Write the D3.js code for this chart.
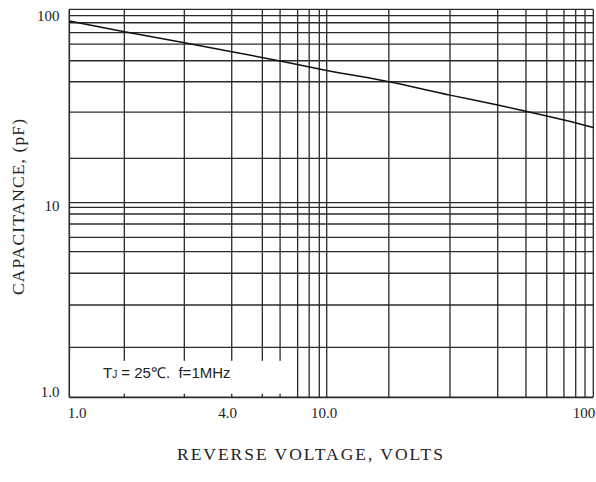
<!DOCTYPE html>
<html>
<head>
<meta charset="utf-8">
<script src="https://cdn.jsdelivr.net/npm/d3@7"></script>
<style>
  html, body { margin: 0; padding: 0; background: #fff; }
  svg { display: block; }
</style>
</head>
<body>
<svg id="chart" width="596" height="482"></svg>
<script>
// ---- data ----
const voltage = [1, 1.636, 2.8, 4.28, 6.59, 10, 17.1, 29, 43.8, 55.9, 77.6, 100];
const capacitance = [87.0, 76.6, 67.2, 60.4, 54.0, 48.3, 42.2, 36.0, 32.0, 29.7, 26.8, 24.5];

const xGridValues = [1.636, 2.798, 4.276, 5.623, 6.59, 7.71, 8.55, 9.36, 10,
                     17.1, 29.0, 43.8, 55.9, 66.9, 77.6, 85.9, 93.1, 100];
const yGridValues = [1.807, 2.98, 4.34, 5.6, 6.64, 7.77, 8.75, 9.47, 10,
                     16.97, 29.4, 42.2, 54.2, 66.1, 75.7, 85.2, 92.7, 100];

const xTickValues = [1, 4, 10, 100];
const xTickLabels = ["1.0", "4.0", "10.0", "100"];
const yTickValues = [1, 10, 100];
const yTickLabels = ["1.0", "10", "100"];

const xTitle = "REVERSE VOLTAGE, VOLTS";
const yTitle = "CAPACITANCE, (pF)";

// ---- drawing ----
const svg = d3.select("#chart");
const serif = "'Liberation Serif', 'Times New Roman', serif";
const sans = "'Liberation Sans', Arial, sans-serif";

const x = d3.scaleLog().domain([1, 10, 100]).range([69.3, 326.7, 593.3]);
const y = d3.scaleLog().domain([1, 10, 100]).range([397.3, 202.7, 9.3]);

const gridColor = "#2a2a2a";
const g = svg.append("g");

// horizontal grid
g.selectAll("line.hg").data(yGridValues).enter().append("line")
  .attr("class", "hg")
  .attr("x1", x(1)).attr("x2", x(100))
  .attr("y1", d => y(d)).attr("y2", d => y(d))
  .attr("stroke", gridColor).attr("stroke-width", 1.3);

// vertical grid
g.selectAll("line.vg").data(xGridValues).enter().append("line")
  .attr("class", "vg")
  .attr("x1", d => x(d)).attr("x2", d => x(d))
  .attr("y1", y(100)).attr("y2", y(1))
  .attr("stroke", gridColor).attr("stroke-width", 1.3);

// frame (left + bottom)
g.append("line").attr("x1", x(1)).attr("x2", x(1)).attr("y1", y(100)).attr("y2", y(1))
  .attr("stroke", gridColor).attr("stroke-width", 1.6);
g.append("line").attr("x1", x(1)).attr("x2", x(100)).attr("y1", y(1)).attr("y2", y(1))
  .attr("stroke", gridColor).attr("stroke-width", 1.8);

// annotation box (white) covering the grid
const boxTop = y(1.807) + 13.5;
g.append("rect")
  .attr("x", x(1) + 1).attr("y", boxTop)
  .attr("width", x(6.59) - x(1) + 8).attr("height", y(1) - 3.5 - boxTop)
  .attr("fill", "#fff");

const ann = g.append("text")
  .attr("x", 103).attr("y", 378)
  .style("white-space", "pre")
  .attr("font-family", sans).attr("font-size", 15).attr("fill", "#222");
ann.append("tspan").text("T");
ann.append("tspan").attr("font-size", 10).text("J");
ann.append("tspan").text(" = 25\u2103.\u00a0\u00a0f=1MHz");

// curve
const line = d3.line().x((d, i) => x(voltage[i])).y(d => y(d)).curve(d3.curveMonotoneX);
g.append("path").datum(capacitance)
  .attr("d", line)
  .attr("fill", "none").attr("stroke", "#111").attr("stroke-width", 1.5);

// y tick labels
const yShift = { "1": -5.3, "10": 3.3, "100": 6.4 };
svg.selectAll("text.yt").data(yTickValues).enter().append("text")
  .attr("class", "yt")
  .attr("x", 59.5).attr("y", d => y(d) + yShift[d])
  .attr("dy", "0.35em")
  .attr("text-anchor", "end")
  .attr("font-family", serif).attr("font-size", 15).attr("fill", "#222")
  .text((d, i) => yTickLabels[i]);

// x tick labels
const xAnchor = ["start", "middle", "middle", "end"];
const xShift = [-1.5, 3.4, -2.7, 2];
svg.selectAll("text.xt").data(xTickValues).enter().append("text")
  .attr("class", "xt")
  .attr("x", (d, i) => x(d) + xShift[i]).attr("y", 413)
  .attr("dy", "0.35em")
  .attr("text-anchor", (d, i) => xAnchor[i])
  .attr("font-family", serif).attr("font-size", 15).attr("fill", "#222")
  .text((d, i) => xTickLabels[i]);

// axis titles
svg.append("text")
  .attr("x", 310).attr("y", 460)
  .attr("text-anchor", "middle")
  .attr("font-family", serif).attr("font-size", 17.5).attr("fill", "#222")
  .attr("textLength", 266).attr("lengthAdjust", "spacing")
  .text(xTitle);

svg.append("text")
  .attr("transform", "translate(23.5,207) rotate(-90)")
  .attr("text-anchor", "middle")
  .attr("font-family", serif).attr("font-size", 17.5).attr("fill", "#222")
  .attr("textLength", 176).attr("lengthAdjust", "spacing")
  .text(yTitle);
</script>
</body>
</html>
